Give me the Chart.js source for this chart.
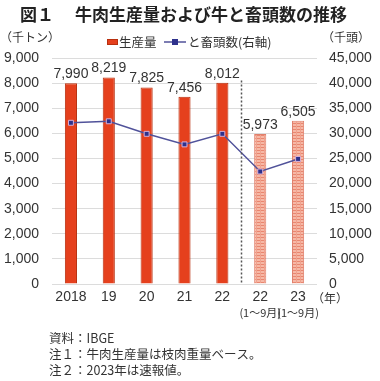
<!DOCTYPE html>
<html>
<head>
<meta charset="utf-8">
<script src="https://cdn.jsdelivr.net/npm/chart.js@4"></script>
<style>
    body { margin: 0; background: #fff; }
    canvas { display: block; }
</style>
</head>
<body>
<canvas id="chart" width="380" height="381"></canvas>
<script>
    // values
    var years = ["2018", "19", "20", "21", "22", "22", "23"];
    var subLabels = ["", "", "", "", "", "(1～9月)", "(1～9月)"];
    var production = [7990, 8219, 7825, 7456, 8012, 5973, 6505];
    var slaughter = [32100, 32400, 29900, 27800, 29900, 22400, 24900];
    var notes = ["資料：IBGE", "注１：牛肉生産量は枝肉重量ベース。", "注２：2023年は速報値。"];

    var jp = '"Noto Sans CJK JP", sans-serif';
    var num = '"Liberation Sans", "Noto Sans CJK JP", sans-serif';

    // hatched fill for the Jan-Sep bars
    function makePattern() {
        var c = document.createElement("canvas");
        c.width = 4;
        c.height = 3;
        var x = c.getContext("2d");
        x.fillStyle = "#F6B8A6";
        x.fillRect(0, 0, 4, 3);
        x.fillStyle = "#E9866F";
        x.fillRect(0, 0, 4, 1);
        x.fillStyle = "#F0A28E";
        x.fillRect(0, 0, 1, 3);
        return x.createPattern(c, "repeat");
    }
    var hatch = makePattern();

    var barColors = [], barBorders = [];
    for (var i = 0; i < production.length; i++) {
        barColors.push(subLabels[i] ? hatch : "#E5401D");
        barBorders.push(subLabels[i] ? "#E0806C" : "#B8300F");
    }

    var extras = {
        id: "extras",
        afterDatasetsDraw: function (chart) {
            var ctx = chart.ctx;
            var bars = chart.getDatasetMeta(0).data;
            ctx.save();
            // value labels over the bars
            ctx.fillStyle = "#333";
            ctx.font = "14px " + num;
            ctx.textAlign = "center";
            ctx.textBaseline = "bottom";
            for (var i = 0; i < bars.length; i++)
                ctx.fillText(production[i].toLocaleString("en-US"), bars[i].x, bars[i].y - 2);

            // dotted separator between full years and Jan-Sep
            var sx = Math.round((bars[4].x + bars[5].x) / 2) + 0.5;
            ctx.strokeStyle = "#555";
            ctx.lineWidth = 1.5;
            ctx.setLineDash([2, 2]);
            ctx.beginPath();
            ctx.moveTo(sx, chart.scales.y.getPixelForValue(8100));
            ctx.lineTo(sx, chart.chartArea.bottom);
            ctx.stroke();
            ctx.restore();
        },
        afterDraw: function (chart) {
            var ctx = chart.ctx;
            var bars = chart.getDatasetMeta(0).data;
            ctx.save();
            ctx.fillStyle = "#222";
            ctx.textBaseline = "middle";

            // title
            ctx.font = "bold 17px " + jp;
            ctx.textAlign = "left";
            ctx.fillText("図１", 20, 15);
            ctx.fillText("牛肉生産量および牛と畜頭数の推移", 75, 15);

            // axis units
            ctx.fillStyle = "#333";
            ctx.font = "12px " + jp;
            ctx.fillText("（千トン）", 0, 37);
            ctx.fillText("（千頭）", 322, 37);
            ctx.fillText("（年）", 312, 298);

            // legend
            ctx.fillStyle = "#E5401D";
            ctx.fillRect(107, 39, 11, 6);
            ctx.strokeStyle = "#B8300F";
            ctx.lineWidth = 1;
            ctx.strokeRect(107.5, 39.5, 10, 5);
            ctx.fillStyle = "#333";
            ctx.font = "12.5px " + jp;
            ctx.fillText("生産量", 119, 42);
            ctx.strokeStyle = "#50529A";
            ctx.lineWidth = 1.5;
            ctx.beginPath();
            ctx.moveTo(164, 42);
            ctx.lineTo(186, 42);
            ctx.stroke();
            ctx.fillStyle = "#2E318C";
            ctx.fillRect(172, 39, 6, 6);
            ctx.fillStyle = "#333";
            ctx.fillText("と畜頭数(右軸)", 188, 42);

            // Jan-Sep sub labels
            ctx.font = "11px " + jp;
            ctx.textAlign = "center";
            for (var i = 0; i < bars.length; i++)
                if (subLabels[i])
                    ctx.fillText(subLabels[i], bars[i].x, 313);

            // notes
            ctx.textAlign = "left";
            ctx.font = "12.5px " + jp;
            for (var j = 0; j < notes.length; j++)
                ctx.fillText(notes[j], 49, 338 + j * 16);
            ctx.restore();
        }
    };

    var ctx = document.getElementById("chart").getContext("2d");
    var chart = new Chart(ctx, {
        type: "bar",
        data: {
            labels: years,
            datasets: [
                {
                    type: "bar",
                    label: "生産量",
                    data: production,
                    yAxisID: "y",
                    backgroundColor: barColors,
                    borderColor: barBorders,
                    borderWidth: 1,
                    categoryPercentage: 1,
                    barPercentage: 0.32,
                    order: 2
                },
                {
                    type: "line",
                    label: "と畜頭数(右軸)",
                    data: slaughter,
                    yAxisID: "y2",
                    borderColor: "#50529A",
                    borderWidth: 1.5,
                    pointStyle: "rect",
                    pointRadius: 3.5,
                    pointBackgroundColor: "#2E318C",
                    pointBorderColor: "#D6B0D8",
                    pointBorderWidth: 1,
                    tension: 0,
                    order: 1
                }
            ]
        },
        options: {
            responsive: false,
            animation: false,
            devicePixelRatio: 1,
            layout: {padding: {top: 58, left: 0, right: 0, bottom: 0}},
            plugins: {legend: {display: false}, tooltip: {enabled: false}},
            scales: {
                x: {
                    grid: {display: false, drawTicks: false},
                    border: {display: false},
                    ticks: {color: "#333", font: {size: 14, family: num}, padding: 5, maxRotation: 0, autoSkip: false},
                    afterFit: function (s) { s.height = 97; }
                },
                y: {
                    position: "left",
                    min: 0,
                    max: 9000,
                    grid: {color: "#dcdcdc", drawTicks: false},
                    border: {display: false},
                    ticks: {
                        stepSize: 1000,
                        color: "#333",
                        font: {size: 14, family: num},
                        padding: 13,
                        callback: function (v) { return v.toLocaleString("en-US"); }
                    },
                    afterFit: function (s) { s.width = 52; }
                },
                y2: {
                    position: "right",
                    min: 0,
                    max: 45000,
                    grid: {display: false, drawTicks: false},
                    border: {display: false},
                    ticks: {
                        stepSize: 5000,
                        color: "#333",
                        font: {size: 14, family: num},
                        padding: 12,
                        callback: function (v) { return v.toLocaleString("en-US"); }
                    },
                    afterFit: function (s) { s.width = 63; }
                }
            }
        },
        plugins: [extras]
    });
</script>
</body>
</html>
